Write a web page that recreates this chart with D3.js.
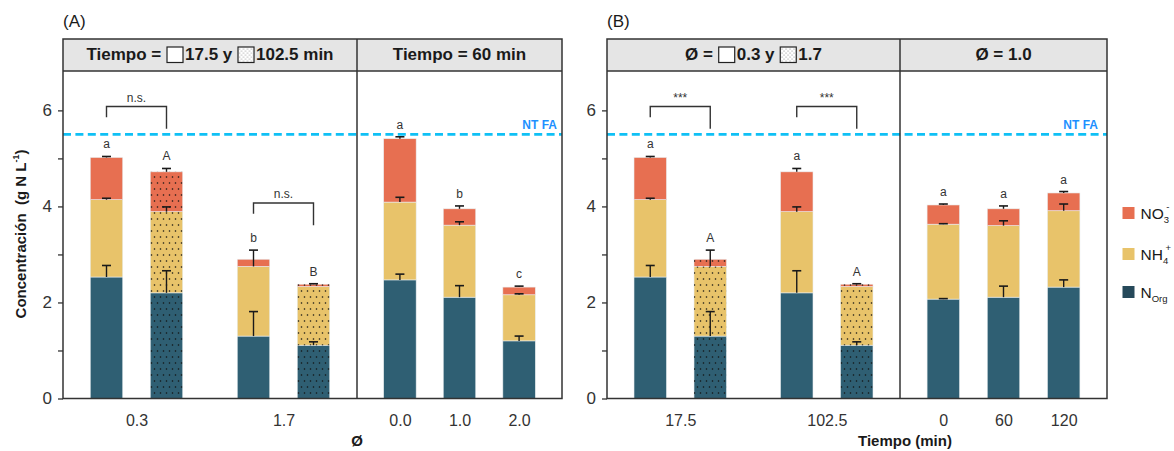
<!DOCTYPE html>
<html>
<head>
<meta charset="utf-8">
<script src="https://cdn.jsdelivr.net/npm/d3@7"></script>
<style>
  body { margin: 0; background: #fff; }
  svg { display: block; font-family: "Liberation Sans", Arial, sans-serif; }
</style>
</head>
<body>
<svg id="chart" width="1174" height="451"></svg>
<script>
// ---- Data: nitrogen species concentration (g N/L), mean and SD ----
const speciesKeys = ["nOrg", "nh4", "no3"];

// Factorial runs: equivalence ratio (phi) x residence time (min)
const phiLevels = ["0.3", "1.7"];
const timeLevels = ["17.5", "102.5"];
const runKeys = ["0.3|17.5", "0.3|102.5", "1.7|17.5", "1.7|102.5"];
const runNOrg = [2.53, 2.20, 1.30, 1.11];
const runNH4 = [1.61, 1.69, 1.45, 1.22];
const runNO3 = [0.88, 0.83, 0.15, 0.05];
const runNOrgSd = [0.24, 0.46, 0.51, 0.07];
const runNH4Sd = [0.03, 0.10, 0.34, 0.00];
const runNO3Sd = [0.02, 0.07, 0.00, 0.01];
const runLettersByPhi = ["a", "A", "b", "B"];
const runLettersByTime = ["a", "a", "A", "A"];

// Time fixed at 60 min, phi varied
const phi60Levels = ["0.0", "1.0", "2.0"];
const phi60NOrg = [2.47, 2.11, 1.20];
const phi60NH4 = [1.62, 1.50, 0.96];
const phi60NO3 = [1.32, 0.34, 0.16];
const phi60NOrgSd = [0.12, 0.24, 0.10];
const phi60NH4Sd = [0.10, 0.07, 0.02];
const phi60NO3Sd = [0.04, 0.06, 0.02];
const phi60Letters = ["a", "b", "c"];

// Phi fixed at 1.0, time varied
const time10Levels = ["0", "60", "120"];
const time10NOrg = [2.07, 2.11, 2.32];
const time10NH4 = [1.56, 1.49, 1.59];
const time10NO3 = [0.40, 0.35, 0.37];
const time10NOrgSd = [0.01, 0.23, 0.15];
const time10NH4Sd = [0.01, 0.10, 0.14];
const time10NO3Sd = [0.02, 0.06, 0.03];
const time10Letters = ["a", "a", "a"];

// Pairwise comparisons within groups
const bracketPhiLabels = ["n.s.", "n.s."];
const bracketPhiTops = [6.08, 4.07];
const bracketTimeLabels = ["***", "***"];
const bracketTimeTops = [6.08, 6.08];

// Reference threshold
const ntfaValue = 5.5;
const yTicks = [0, 1, 2, 3, 4, 5, 6];
const yDomain = [0, 6.82];

const legendLabels = [
  { key: "no3", base: "NO", sub: "3", sup: "-" },
  { key: "nh4", base: "NH", sub: "4", sup: "+" },
  { key: "nOrg", base: "N", sub: "Org", sup: "" }
];

// ---- Styling ----
const fillColors = { nOrg: "#2F5F73", nh4: "#E8C36A", no3: "#E76F51" };
const legendColors = { nOrg: "#26495A", nh4: "#E8C36A", no3: "#E76F51" };
const ink = "#333";
const HEAD_TOP = 39, PLOT_TOP = 71, PLOT_BOTTOM = 398.5;
const barWidth = 32.5, dodge = 30;

const svg = d3.select("#chart");
const defs = svg.append("defs");
const dots = defs.append("pattern").attr("id", "dots")
  .attr("patternUnits", "userSpaceOnUse").attr("width", 6).attr("height", 12);
dots.append("circle").attr("cx", 1.5).attr("cy", 3).attr("r", 0.8).attr("fill", "#111");
dots.append("circle").attr("cx", 4.5).attr("cy", 9).attr("r", 0.8).attr("fill", "#111");
const dotsKey = defs.append("pattern").attr("id", "dotsKey")
  .attr("patternUnits", "userSpaceOnUse").attr("width", 4).attr("height", 4);
dotsKey.append("circle").attr("cx", 1).attr("cy", 1).attr("r", 0.55).attr("fill", "#777");
dotsKey.append("circle").attr("cx", 3).attr("cy", 3).attr("r", 0.55).attr("fill", "#777");

const y = d3.scaleLinear().domain(yDomain).range([PLOT_BOTTOM, PLOT_TOP]);
const stack = d3.stack().keys(speciesKeys);

function runRecord(i) {
  return {
    nOrg: runNOrg[i], nh4: runNH4[i], no3: runNO3[i],
    sd: { nOrg: runNOrgSd[i], nh4: runNH4Sd[i], no3: runNO3Sd[i] }
  };
}

// Rich header text: strings and little key boxes laid out in a centred row
function header(g, cx, parts) {
  const row = g.append("g");
  let x = 0;
  parts.forEach(p => {
    if (typeof p === "string") {
      const t = row.append("text").attr("x", x).attr("y", 60)
        .attr("font-size", 17).attr("font-weight", "bold").attr("fill", "#1a1a1a")
        .attr("xml:space", "preserve").text(p);
      x += t.node().getComputedTextLength();
    } else {
      x += 1;
      row.append("rect").attr("x", x).attr("y", 47).attr("width", 16).attr("height", 15.5)
        .attr("fill", "#fff").attr("stroke", "#222").attr("stroke-width", 1.2);
      if (p.dotted) {
        row.append("rect").attr("x", x + 0.6).attr("y", 47.6).attr("width", 14.8).attr("height", 14.3)
          .attr("fill", "url(#dotsKey)");
      }
      x += 18;
    }
  });
  row.attr("transform", `translate(${cx - x / 2},0)`);
}

function drawBars(g, recs) {
  const layers = stack(recs);
  layers.forEach(layer => {
    const key = layer.key;
    layer.forEach(seg => {
      const d = seg.data;
      const x0 = d.x - barWidth / 2;
      g.append("rect").attr("x", x0).attr("y", y(seg[1]))
        .attr("width", barWidth).attr("height", y(seg[0]) - y(seg[1]))
        .attr("fill", fillColors[key]).attr("stroke", "#e9eef0").attr("stroke-width", 0.6);
      if (d.dotted) {
        g.append("rect").attr("x", x0).attr("y", y(seg[1]))
          .attr("width", barWidth).attr("height", y(seg[0]) - y(seg[1]))
          .attr("fill", "url(#dots)");
      }
    });
  });
  // error bars (upper half), drawn over all segments
  layers.forEach(layer => {
    layer.forEach(seg => {
      const d = seg.data, sd = d.sd[layer.key];
      if (!(sd > 0)) return;
      const top = y(seg[1] + sd), base = y(seg[1]);
      g.append("line").attr("x1", d.x).attr("x2", d.x).attr("y1", base).attr("y2", top)
        .attr("stroke", "#1a1a1a").attr("stroke-width", 1.4);
      g.append("line").attr("x1", d.x - 4.5).attr("x2", d.x + 4.5).attr("y1", top).attr("y2", top)
        .attr("stroke", "#1a1a1a").attr("stroke-width", 1.6);
    });
  });
  // significance letters above the highest error cap of each bar
  recs.forEach((d, i) => {
    const capTop = d3.max(layers, layer => layer[i][1] + (d.sd[layer.key] || 0));
    g.append("text").attr("x", d.x).attr("y", y(capTop) - 8)
      .attr("text-anchor", "middle").attr("font-size", 12).attr("fill", ink).text(d.letter);
  });
}

function drawBracket(g, xl, xr, top, label) {
  const yt = y(top);
  g.append("path")
    .attr("d", `M${xl},${yt + 10.6}V${yt}H${xr}V${yt + 22.3}`)
    .attr("fill", "none").attr("stroke", ink).attr("stroke-width", 1.4);
  g.append("text").attr("x", (xl + xr) / 2).attr("y", yt - 5)
    .attr("text-anchor", "middle").attr("font-size", 12).attr("fill", ink).text(label);
}

function drawPanel(p) {
  const g = svg.append("g");
  // strip background
  g.append("rect").attr("x", p.left).attr("y", HEAD_TOP)
    .attr("width", p.right - p.left).attr("height", PLOT_TOP - HEAD_TOP).attr("fill", "#E5E5E5");

  // threshold line
  g.append("line").attr("x1", p.left).attr("x2", p.right)
    .attr("y1", y(ntfaValue)).attr("y2", y(ntfaValue))
    .attr("stroke", "#0FC0F5").attr("stroke-width", 2.6).attr("stroke-dasharray", "8,4.4");
  g.append("text").attr("x", p.right - p.ntfaInset).attr("y", y(ntfaValue) - 5)
    .attr("text-anchor", "end").attr("font-size", 12).attr("font-weight", "bold")
    .attr("fill", "#1E90FF").text("NT FA");

  // facet 1: grouped, dodged bars
  const outer = d3.scalePoint().domain(p.groups).range([p.left, p.split]).padding(0.5);
  const inner = d3.scalePoint().domain(p.subs).range([-dodge, dodge]);
  const recs1 = [];
  p.groups.forEach(gv => {
    p.subs.forEach((sv, si) => {
      const key = p.keyOf(gv, sv);
      const i = runKeys.indexOf(key);
      const r = runRecord(i);
      r.x = outer(gv) + inner(sv);
      r.dotted = si === 1;
      r.letter = p.letters[i];
      recs1.push(r);
    });
  });
  drawBars(g, recs1);
  p.groups.forEach((gv, gi) => {
    drawBracket(g, outer(gv) + inner(p.subs[0]), outer(gv) + inner(p.subs[1]),
      p.bracketTops[gi], p.bracketLabels[gi]);
  });

  // facet 2: single bars
  const x2 = d3.scalePoint().domain(p.levels2).range([p.split, p.right]).padding(0.72);
  const recs2 = p.levels2.map((lv, i) => ({
    nOrg: p.nOrg2[i], nh4: p.nh42[i], no3: p.no32[i],
    sd: { nOrg: p.nOrgSd2[i], nh4: p.nh4Sd2[i], no3: p.no3Sd2[i] },
    x: x2(lv), dotted: false, letter: p.letters2[i]
  }));
  drawBars(g, recs2);

  // x axes (labels only)
  const ax1 = g.append("g").attr("transform", `translate(0,${PLOT_BOTTOM})`)
    .call(d3.axisBottom(outer).tickSize(0).tickPadding(16));
  const ax2 = g.append("g").attr("transform", `translate(0,${PLOT_BOTTOM})`)
    .call(d3.axisBottom(x2).tickSize(0).tickPadding(16));
  [ax1, ax2].forEach(a => {
    a.select(".domain").remove();
    a.selectAll("text").attr("font-size", 16).attr("fill", ink)
      .attr("font-family", "Liberation Sans, Arial, sans-serif");
  });

  // y axis
  const ay = g.append("g").attr("transform", `translate(${p.left},0)`)
    .call(d3.axisLeft(y).tickValues(yTicks).tickSize(5).tickPadding(6)
      .tickFormat(d => d % 2 === 0 ? d : ""));
  ay.select(".domain").remove();
  ay.selectAll("line").attr("stroke", ink).attr("stroke-width", 1.3);
  ay.selectAll("text").attr("font-size", 17).attr("fill", ink)
    .attr("font-family", "Liberation Sans, Arial, sans-serif");

  // frame, strip separator and facet divider
  g.append("rect").attr("x", p.left).attr("y", HEAD_TOP)
    .attr("width", p.right - p.left).attr("height", PLOT_BOTTOM - HEAD_TOP)
    .attr("fill", "none").attr("stroke", ink).attr("stroke-width", 1.5);
  g.append("line").attr("x1", p.left).attr("x2", p.right).attr("y1", PLOT_TOP).attr("y2", PLOT_TOP)
    .attr("stroke", ink).attr("stroke-width", 1.5);
  g.append("line").attr("x1", p.split).attr("x2", p.split).attr("y1", HEAD_TOP).attr("y2", PLOT_BOTTOM)
    .attr("stroke", ink).attr("stroke-width", 1.5);

  header(g, (p.left + p.split) / 2, p.header1);
  header(g, (p.split + p.right) / 2, p.header2);

  g.append("text").attr("x", p.left).attr("y", 27).attr("font-size", 17).attr("fill", "#1a1a1a").text(p.tag);
  g.append("text").attr("x", p.xTitleX).attr("y", 446).attr("text-anchor", "middle")
    .attr("font-size", 15).attr("font-weight", "bold").attr("fill", "#1a1a1a").text(p.xTitle);
}

drawPanel({
  tag: "(A)", left: 63, split: 357, right: 562, ntfaInset: 5,
  groups: phiLevels, subs: timeLevels, keyOf: (g, s) => g + "|" + s,
  letters: runLettersByPhi, bracketLabels: bracketPhiLabels, bracketTops: bracketPhiTops,
  levels2: phi60Levels, nOrg2: phi60NOrg, nh42: phi60NH4, no32: phi60NO3,
  nOrgSd2: phi60NOrgSd, nh4Sd2: phi60NH4Sd, no3Sd2: phi60NO3Sd, letters2: phi60Letters,
  header1: ["Tiempo = ", { dotted: false }, "17.5 y ", { dotted: true }, "102.5 min"],
  header2: ["Tiempo = 60 min"],
  xTitle: "Ø", xTitleX: 357
});

drawPanel({
  tag: "(B)", left: 607, split: 900, right: 1107, ntfaInset: 9,
  groups: timeLevels, subs: phiLevels, keyOf: (g, s) => s + "|" + g,
  letters: runLettersByTime, bracketLabels: bracketTimeLabels, bracketTops: bracketTimeTops,
  levels2: time10Levels, nOrg2: time10NOrg, nh42: time10NH4, no32: time10NO3,
  nOrgSd2: time10NOrgSd, nh4Sd2: time10NH4Sd, no3Sd2: time10NO3Sd, letters2: time10Letters,
  header1: ["Ø = ", { dotted: false }, "0.3 y ", { dotted: true }, "1.7"],
  header2: ["Ø = 1.0"],
  xTitle: "Tiempo (min)", xTitleX: 905
});

// y-axis title
const yTitle = svg.append("text").attr("transform", "translate(26,234) rotate(-90)")
  .attr("text-anchor", "middle").attr("font-size", 15).attr("font-weight", "bold").attr("fill", "#1a1a1a");
yTitle.append("tspan").attr("xml:space", "preserve").text("Concentración  (g N L");
yTitle.append("tspan").attr("font-size", 9).attr("dy", -7).text("-1");
yTitle.append("tspan").attr("dy", 7).text(")");

// legend: species keys with sub/superscript ion notation
const legend = svg.append("g").attr("transform", "translate(1122.5,0)");
const legendY = [213, 254, 292];
legendLabels.forEach((L, i) => {
  const cy = legendY[i];
  legend.append("rect").attr("x", 0).attr("y", cy - 6).attr("width", 12).attr("height", 12)
    .attr("fill", legendColors[L.key]);
  const t = legend.append("text").attr("x", 18).attr("y", cy + 5.5)
    .attr("font-size", 15.5).attr("fill", "#1a1a1a");
  t.append("tspan").text(L.base);
  const sub = t.append("tspan").attr("font-size", 9.5).attr("dy", 4).text(L.sub);
  if (L.sup) {
    const w = sub.node().getComputedTextLength();
    t.append("tspan").attr("font-size", 9.5).attr("dy", -13).attr("dx", -w + 2.5).text(L.sup);
  }
});
</script>
</body>
</html>
